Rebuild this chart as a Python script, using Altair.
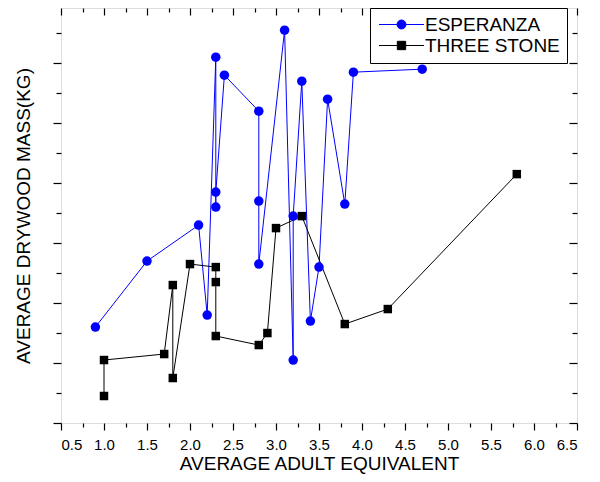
import altair as alt
import pandas as pd

series_names = ["ESPERANZA", "THREE STONE"]
series_colors = ["#0000ff", "#000000"]

esp_x = [0.9, 1.5, 2.1, 2.2, 2.3, 2.3, 2.3, 2.4, 2.8, 2.8, 2.8, 3.1, 3.2, 3.2, 3.3, 3.4, 3.5, 3.6, 3.8, 3.9, 4.7]
esp_y = [1.6, 2.7, 3.3, 1.8, 6.1, 3.6, 3.85, 5.8, 5.2, 3.7, 2.65, 6.55, 1.05, 3.45, 5.7, 1.7, 2.6, 5.4, 3.65, 5.85, 5.9]

ts_x = [1.0, 1.0, 1.7, 1.8, 1.8, 2.0, 2.3, 2.3, 2.3, 2.8, 2.9, 3.0, 3.3, 3.8, 4.3, 5.8]
ts_y = [0.45, 1.05, 1.15, 2.3, 0.75, 2.65, 2.6, 2.35, 1.45, 1.3, 1.5, 3.25, 3.45, 1.65, 1.9, 4.15]

x_major = [0.5, 1.0, 1.5, 2.0, 2.5, 3.0, 3.5, 4.0, 4.5, 5.0, 5.5, 6.0, 6.5]
x_minor = [0.75, 1.25, 1.75, 2.25, 2.75, 3.25, 3.75, 4.25, 4.75, 5.25, 5.75, 6.25]
y_major = [0, 1, 2, 3, 4, 5, 6]
y_minor = [0.5, 1.5, 2.5, 3.5, 4.5, 5.5, 6.5]

x_title = "AVERAGE ADULT EQUIVALENT"
y_title = "AVERAGE DRYWOOD MASS(KG)"

rows = []
for i, (xv, yv) in enumerate(zip(esp_x, esp_y)):
    rows.append({"series": series_names[0], "x": xv, "y": yv, "idx": i})
for i, (xv, yv) in enumerate(zip(ts_x, ts_y)):
    rows.append({"series": series_names[1], "x": xv, "y": yv, "idx": i})
df = pd.DataFrame(rows)

FONT = "Liberation Sans"
xs = alt.Scale(domain=[0.5, 6.5], nice=False, zero=False)
ys = alt.Scale(domain=[0, 6.92], nice=False, zero=False)

base = alt.Chart(df)

tick_common = dict(tickColor="black", tickWidth=1.2, domain=False, grid=False)

main_x = alt.X("x:Q", scale=xs, title=x_title,
               axis=alt.Axis(orient="bottom", values=x_major, format=".1f", tickSize=7,
                             labelFontSize=15, labelPadding=7, labelColor="black", labelFont=FONT,
                             titleFont=FONT, titleFontSize=19, titleFontWeight="normal",
                             titleColor="black", titlePadding=2, **tick_common))
main_y = alt.Y("y:Q", scale=ys, title=y_title,
               axis=alt.Axis(orient="left", values=y_major, labels=False, tickSize=8,
                             titleFont=FONT, titleFontSize=19, titleFontWeight="normal",
                             titleColor="black", titlePadding=19, **tick_common))
nx = alt.X("x:Q", scale=xs, axis=None)
ny = alt.Y("y:Q", scale=ys, axis=None)

esp = base.transform_filter(alt.datum.series == series_names[0])
ts = base.transform_filter(alt.datum.series == series_names[1])

esp_line = esp.mark_line(strokeWidth=1, color=series_colors[0]).encode(
    x=main_x, y=main_y, order=alt.Order("idx:Q"))
ts_line = ts.mark_line(strokeWidth=1, color=series_colors[1]).encode(
    x=nx, y=ny, order=alt.Order("idx:Q"))

esp_pts = esp.mark_point(shape="circle", filled=True, size=90, color=series_colors[0],
                         opacity=1).encode(x=nx, y=ny)
ts_pts = ts.mark_point(shape="square", filled=True, size=72, color=series_colors[1],
                       opacity=1).encode(x=nx, y=ny)

circ_path = "M-4.75,0H4.75M-0.95,0A0.95,0.95 0 1,0 0.95,0A0.95,0.95 0 1,0 -0.95,0Z"
sq_path = "M-4.75,0H4.75M-0.88,-0.88H0.88V0.88H-0.88Z"

def make_legend():
    return alt.Legend(title=None, orient="none", legendX=309, legendY=0,
                      labelFont=FONT, labelFontSize=19, labelColor="black",
                      symbolSize=90, symbolStrokeWidth=1, symbolOffset=15,
                      labelOffset=14, padding=7, rowPadding=1,
                      strokeColor="black", fillColor="white", symbolOpacity=1)

legend_layer = base.transform_filter("false").mark_point(filled=True, size=90, strokeWidth=1).encode(
    x=nx, y=ny,
    fill=alt.Fill("series:N", scale=alt.Scale(domain=series_names, range=series_colors),
                  legend=make_legend()),
    stroke=alt.Stroke("series:N", scale=alt.Scale(domain=series_names, range=series_colors),
                      legend=make_legend()),
    shape=alt.Shape("series:N", scale=alt.Scale(domain=series_names, range=[circ_path, sq_path]),
                    legend=make_legend()),
)

def axis_layer(xax, yax):
    return base.mark_point(opacity=0).encode(
        x=alt.X("x:Q", scale=xs, title=None, axis=xax),
        y=alt.Y("y:Q", scale=ys, title=None, axis=yax),
    )

minor_bl = axis_layer(
    alt.Axis(orient="bottom", values=x_minor, labels=False, tickSize=4, **tick_common),
    alt.Axis(orient="left", values=y_minor, labels=False, tickSize=5, **tick_common),
)
major_tr = axis_layer(
    alt.Axis(orient="top", values=x_major, labels=False, tickSize=7, offset=-7, **tick_common),
    alt.Axis(orient="right", values=y_major, labels=False, tickSize=8, offset=-8, **tick_common),
)
minor_tr = axis_layer(
    alt.Axis(orient="top", values=x_minor, labels=False, tickSize=4, offset=-4, **tick_common),
    alt.Axis(orient="right", values=y_minor, labels=False, tickSize=5, offset=-5, **tick_common),
)

chart = alt.layer(
    esp_line, ts_line, esp_pts, ts_pts, legend_layer, minor_bl, major_tr, minor_tr
).resolve_axis(x="independent", y="independent").properties(
    width=516, height=415,
    autosize=alt.AutoSizeParams(type="none"),
    padding={"left": 53, "top": 0, "right": 10, "bottom": 51},
).configure_view(stroke="black", strokeWidth=1.5).configure(background="white")

chart.save("out.html", embed_options={"renderer": "svg", "actions": False})
